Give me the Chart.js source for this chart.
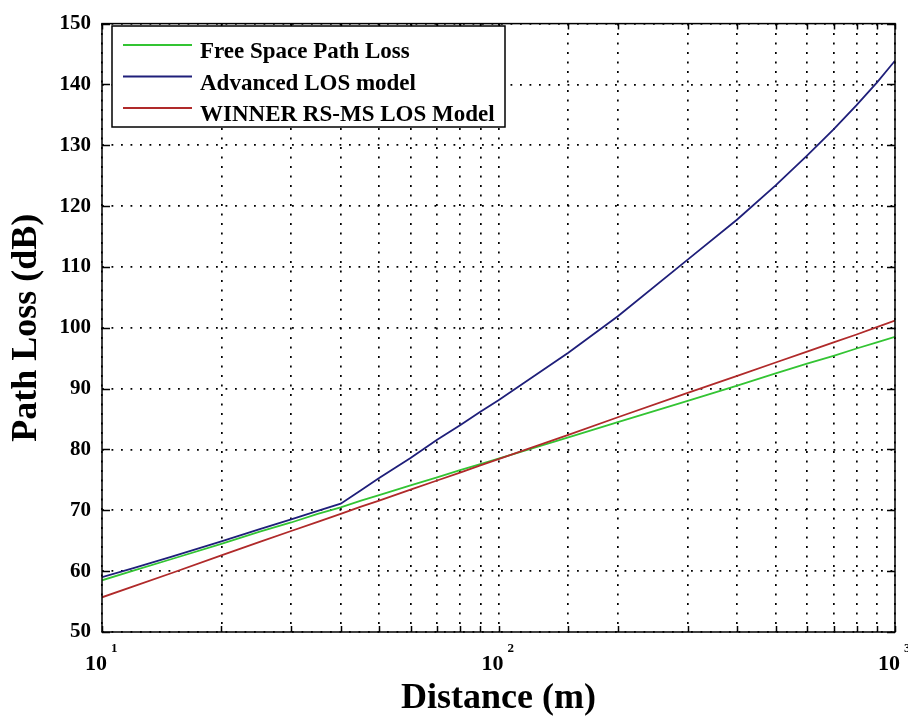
<!DOCTYPE html>
<html>
<head>
<meta charset="utf-8">
<script src="https://cdn.jsdelivr.net/npm/chart.js@4.4.1/dist/chart.umd.min.js"></script>
<style>
html, body { margin: 0; padding: 0; background: #fff; }
</style>
</head>
<body>
<canvas id="mycanvas" width="908" height="720"></canvas>
<script>
// distance in metres (log axis)
var distance = [10, 12, 15, 20, 25, 30, 35, 40, 45, 50, 60, 70, 80, 90, 100, 150, 200, 300, 400, 500, 600, 700, 800, 900, 1000];
// path loss in dB
var freeSpace   = [58.5, 60.1, 62.0, 64.5, 66.5, 68.0, 69.4, 70.5, 71.6, 72.5, 74.1, 75.4, 76.6, 77.6, 78.5, 82.0, 84.5, 88.0, 90.5, 92.5, 94.1, 95.4, 96.6, 97.6, 98.5];
var advancedLos = [59.0, 60.5, 62.4, 64.9, 66.9, 68.5, 69.9, 71.1, 73.3, 75.3, 78.6, 81.6, 84.0, 86.2, 88.1, 95.9, 101.9, 111.2, 117.8, 123.4, 128.3, 132.6, 136.6, 140.3, 143.9];
var winnerLos   = [55.7, 57.5, 59.7, 62.6, 64.8, 66.6, 68.1, 69.4, 70.6, 71.6, 73.4, 74.9, 76.2, 77.4, 78.4, 82.4, 85.3, 89.3, 92.1, 94.3, 96.1, 97.6, 98.9, 100.1, 101.2];
var seriesNames = ['Free Space Path Loss', 'Advanced LOS model', 'WINNER RS-MS LOS Model'];
var seriesColors = ['#33c433', '#1f1f7a', '#b02a2a'];
var xDecades = [10, 100, 1000];
var xExponents = ['1', '2', '3'];
var yMin = 50, yMax = 150, yStep = 10;

function points(ys) {
  return distance.map(function(d, i) { return {x: d, y: ys[i]}; });
}

var serif = '"Liberation Serif", "Times New Roman", serif';

// matlab style box, inward ticks, 10^n labels and legend
var matlabAxes = {
  id: 'matlabAxes',
  afterDraw: function(chart) {
    var ctx = chart.ctx;
    var a = chart.chartArea;
    var xs = chart.scales.x, ys = chart.scales.y;
    ctx.save();
    ctx.strokeStyle = '#000';
    ctx.lineWidth = 1.5;
    ctx.strokeRect(a.left, a.top, a.right - a.left, a.bottom - a.top);

    ctx.beginPath();
    ys.ticks.forEach(function(t) {
      var py = Math.round(ys.getPixelForValue(t.value)) + 0.5;
      ctx.moveTo(a.left, py); ctx.lineTo(a.left + 8, py);
      ctx.moveTo(a.right, py); ctx.lineTo(a.right - 8, py);
    });
    xs.ticks.forEach(function(t) {
      var px = Math.round(xs.getPixelForValue(t.value)) + 0.5;
      ctx.moveTo(px, a.bottom); ctx.lineTo(px, a.bottom - 6);
      ctx.moveTo(px, a.top); ctx.lineTo(px, a.top + 6);
    });
    ctx.stroke();

    ctx.fillStyle = '#000';
    ctx.textBaseline = 'alphabetic';
    xDecades.forEach(function(v, i) {
      var px = xs.getPixelForValue(v);
      ctx.font = 'bold 22px ' + serif;
      ctx.textAlign = 'right';
      ctx.fillText('10', px + 5, 670);
      ctx.font = 'bold 13px ' + serif;
      ctx.textAlign = 'left';
      ctx.fillText(xExponents[i], px + 9, 652);
    });

    // legend box
    var lx = 112, ly = 26, lw = 393, lh = 101;
    ctx.fillStyle = '#fff';
    ctx.fillRect(lx, ly, lw, lh);
    ctx.lineWidth = 1.5;
    ctx.strokeStyle = '#000';
    ctx.strokeRect(lx, ly, lw, lh);
    chart.data.datasets.forEach(function(ds, i) {
      var rowY = 45 + i * 31.5;
      ctx.strokeStyle = ds.borderColor;
      ctx.lineWidth = 2;
      ctx.beginPath();
      ctx.moveTo(123, rowY); ctx.lineTo(192, rowY);
      ctx.stroke();
      ctx.fillStyle = '#000';
      ctx.font = 'bold 23px ' + serif;
      ctx.textAlign = 'left';
      ctx.fillText(ds.label, 200, rowY + 13);
    });
    ctx.restore();
  }
};

var chartdata = {
  datasets: [
    { label: seriesNames[0], data: points(freeSpace), borderColor: seriesColors[0], order: 3 },
    { label: seriesNames[1], data: points(advancedLos), borderColor: seriesColors[1], order: 2 },
    { label: seriesNames[2], data: points(winnerLos), borderColor: seriesColors[2], order: 1 }
  ]
};
chartdata.datasets.forEach(function(ds) {
  ds.borderWidth = 1.8;
  ds.pointRadius = 0;
  ds.tension = 0;
  ds.fill = false;
});

var gridStyle = { color: '#000', lineWidth: 1.7, drawTicks: false };
var borderStyle = { display: false, dash: [1.8, 7.7] };

var ctx = document.getElementById('mycanvas');
var lineGraph = new Chart(ctx, {
  type: 'line',
  data: chartdata,
  plugins: [matlabAxes],
  options: {
    responsive: false,
    animation: false,
    layout: { padding: { left: 0, right: 13, top: 14, bottom: 0 } },
    plugins: { legend: { display: false }, tooltip: { enabled: false } },
    scales: {
      x: {
        type: 'logarithmic',
        min: 10,
        max: 1000,
        grid: gridStyle,
        border: borderStyle,
        ticks: { display: false, autoSkip: false },
        title: { display: true, text: 'Distance (m)', color: '#000',
                 font: { family: serif, size: 36, weight: 'bold' }, padding: { top: 0, bottom: 0 } },
        afterFit: function(s) { s.height = 88; }
      },
      y: {
        min: yMin,
        max: yMax,
        grid: gridStyle,
        border: borderStyle,
        ticks: { stepSize: yStep, color: '#000', padding: 11,
                 font: { family: serif, size: 21, weight: 'bold' } },
        title: { display: true, text: 'Path Loss (dB)', color: '#000',
                 font: { family: serif, size: 36, weight: 'bold' }, padding: { top: 5, bottom: 0 } },
        afterFit: function(s) { s.width = 102; }
      }
    }
  }
});
</script>
</body>
</html>
